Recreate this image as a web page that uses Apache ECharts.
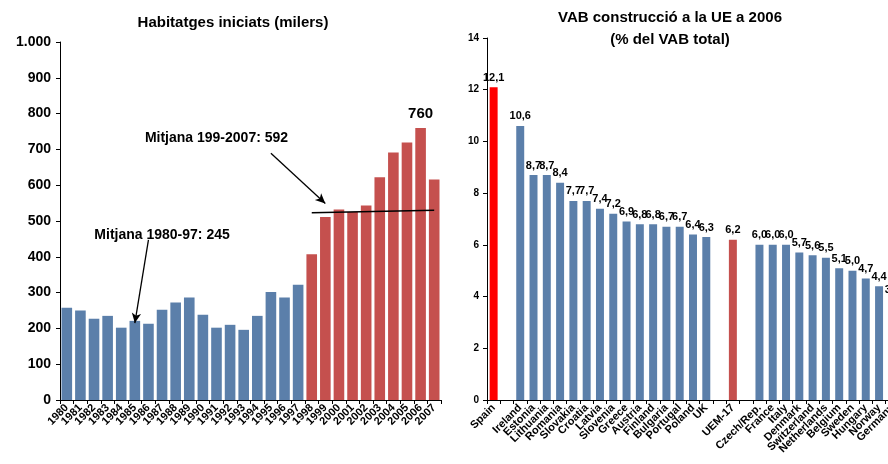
<!DOCTYPE html>
<html>
<head>
<meta charset="utf-8">
<script src="https://cdn.jsdelivr.net/npm/echarts@6/dist/echarts.min.js"></script>
<style>
  html, body { margin: 0; padding: 0; background: #fff; overflow: hidden; }
  #chart { width: 900px; height: 464px; }
</style>
</head>
<body>
<div id="chart"></div>
<script>
// left chart: housing starts (thousands)
const years = ['1980', '1981', '1982', '1983', '1984', '1985', '1986', '1987', '1988', '1989',
  '1990', '1991', '1992', '1993', '1994', '1995', '1996', '1997', '1998', '1999',
  '2000', '2001', '2002', '2003', '2004', '2005', '2006', '2007'];
const housingStarts = [258, 250, 227, 235, 202, 221, 213, 252, 272, 286,
  238, 202, 210, 196, 235, 302, 286, 322, 407, 511,
  532, 525, 543, 622, 691, 719, 760, 616];
const boomStart = '1998';
const housingTicks = [0, 100, 200, 300, 400, 500, 600, 700, 800, 900, 1000];

// right chart: construction GVA share, EU 2006
const countries = ['Spain', ' ', 'Ireland', 'Estonia', 'Lithuania', 'Romania', 'Slovakia', 'Croatia',
  'Latvia', 'Slovenia', 'Greece', 'Austria', 'Finland', 'Bulgaria', 'Portugal', 'Poland', 'UK',
  '  ', 'UEM-17', '   ', 'Czech/Rep.', 'France', 'Italy', 'Denmark', 'Switzerland', 'Netherlands',
  'Belgium', 'Sweden', 'Hungary', 'Norway', 'Germany'];
const vabShare = [12.1, null, 10.6, 8.7, 8.7, 8.4, 7.7, 7.7,
  7.4, 7.2, 6.9, 6.8, 6.8, 6.7, 6.7, 6.4, 6.3,
  null, 6.2, null, 6.0, 6.0, 6.0, 5.7, 5.6, 5.5,
  5.1, 5.0, 4.7, 4.4, 3.9];

// average lines and notes (data coordinates)
const avgEarly = [[-0.7, 169], [17, 175]];
const avgBoom = [[18.4, 523], [27.2, 530]];
const arrowEarly = [[6.1, 447], [4.63, 215]];
const arrowBoom = [[15.07, 689], [19.04, 549]];
const noteEarly = { text: 'Mitjana 1980-97: 245', coord: [7.45, 461] };
const noteBoom = { text: 'Mitjana 199-2007: 592', coord: [10.96, 731] };

const FONT = '"Liberation Sans", Arial, sans-serif';
const BLUE = '#5b7faa';
const RED = '#c5504e';

const chart = echarts.init(document.getElementById('chart'), null, { renderer: 'canvas' });

const boomIdx = years.indexOf(boomStart);
const maxVal = Math.max(...housingStarts);

const housingData = housingStarts.map((v, i) => {
  const item = { value: v, itemStyle: { color: i >= boomIdx ? RED : BLUE } };
  if (v === maxVal) {
    item.label = {
      show: true, position: 'top', distance: 7,
      fontFamily: FONT, fontWeight: 'bold', fontSize: 15, color: '#000'
    };
  }
  return item;
});

const vabData = vabShare.map((v, i) => {
  let color = BLUE;
  if (countries[i] === 'Spain') color = '#ff0000';
  if (countries[i] === 'UEM-17') color = RED;
  return { value: v, itemStyle: { color } };
});

const lineStyle = { color: '#000', width: 1.3, type: 'solid' };
const noteLabel = {
  show: true, position: 'inside', fontFamily: FONT, fontWeight: 'bold',
  fontSize: 14, color: '#000'
};

const option = {
  animation: false,
  textStyle: { fontFamily: FONT },
  title: [
    {
      text: 'Habitatges iniciats (milers)',
      left: 228, top: 10, textAlign: 'center',
      textStyle: { fontFamily: FONT, fontWeight: 'bold', fontSize: 15, color: '#000' }
    },
    {
      text: 'VAB construcció a la UE a 2006\n(% del VAB total)',
      left: 665, top: 2, textAlign: 'center',
      textStyle: { fontFamily: FONT, fontWeight: 'bold', fontSize: 15, color: '#000', lineHeight: 22 }
    }
  ],
  grid: [
    { left: 60, top: 42, width: 381, height: 358 },
    { left: 487, top: 38, width: 412, height: 362 }
  ],
  xAxis: [
    {
      type: 'category', gridIndex: 0, data: years,
      axisLine: { lineStyle: { color: '#000', width: 1 } },
      axisTick: { show: true, length: 4, lineStyle: { color: '#000' } },
      axisLabel: {
        interval: 0, rotate: 45, margin: 6,
        fontFamily: FONT, fontWeight: 'bold', fontSize: 11, color: '#000'
      }
    },
    {
      type: 'category', gridIndex: 1, data: countries,
      axisLine: { lineStyle: { color: '#000', width: 1 } },
      axisTick: { show: true, length: 4, lineStyle: { color: '#000' } },
      axisLabel: {
        interval: 0, rotate: 45, margin: 6,
        fontFamily: FONT, fontWeight: 'bold', fontSize: 11, color: '#000'
      }
    }
  ],
  yAxis: [
    {
      type: 'value', gridIndex: 0, min: 0, max: 1000, interval: 100,
      axisLine: { show: true, lineStyle: { color: '#000' } },
      axisTick: { show: true, length: 4, lineStyle: { color: '#000' } },
      splitLine: { show: false },
      axisLabel: {
        margin: 9, fontFamily: FONT, fontWeight: 'bold', fontSize: 14, color: '#000',
        formatter: (v) => housingTicks.includes(v) ? v.toLocaleString('de-DE') : ''
      }
    },
    {
      type: 'value', gridIndex: 1, min: 0, max: 14, interval: 2,
      axisLine: { show: true, lineStyle: { color: '#000' } },
      axisTick: { show: true, length: 4, lineStyle: { color: '#000' } },
      splitLine: { show: false },
      axisLabel: {
        margin: 8, fontFamily: FONT, fontWeight: 'bold', fontSize: 10, color: '#000'
      }
    }
  ],
  series: [
    {
      name: 'Habitatges iniciats',
      type: 'bar', xAxisIndex: 0, yAxisIndex: 0,
      data: housingData,
      barCategoryGap: '22%',
      markLine: {
        silent: true,
        symbol: ['none', 'none'],
        label: { show: false },
        lineStyle,
        data: [
          [{ coord: avgEarly[0] }, { coord: avgEarly[1] }],
          [{ coord: avgBoom[0] }, { coord: avgBoom[1] }],
          [{ coord: arrowEarly[0], symbol: 'none' }, { coord: arrowEarly[1], symbol: 'arrow', symbolSize: [7, 10] }],
          [{ coord: arrowBoom[0], symbol: 'none' }, { coord: arrowBoom[1], symbol: 'arrow', symbolSize: [7, 10] }]
        ]
      },
      markPoint: {
        silent: true,
        symbol: 'rect',
        symbolSize: 1,
        itemStyle: { color: 'rgba(0,0,0,0)' },
        label: noteLabel,
        data: [
          { coord: noteEarly.coord, value: noteEarly.text, label: { formatter: noteEarly.text } },
          { coord: noteBoom.coord, value: noteBoom.text, label: { formatter: noteBoom.text } }
        ]
      }
    },
    {
      name: 'VAB construcció',
      type: 'bar', xAxisIndex: 1, yAxisIndex: 1,
      data: vabData,
      barCategoryGap: '40%',
      label: {
        show: true, position: 'top', distance: 4,
        fontFamily: FONT, fontWeight: 'bold', fontSize: 11, color: '#000',
        formatter: (p) => p.value == null ? '' : p.value.toFixed(1).replace('.', ',')
      }
    }
  ]
};

chart.setOption(option);
</script>
</body>
</html>
